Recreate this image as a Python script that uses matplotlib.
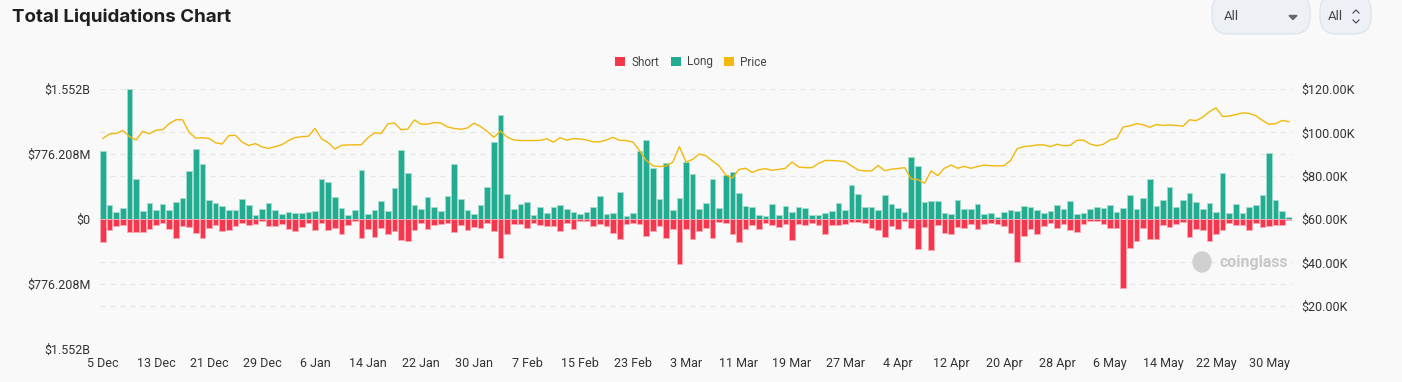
import numpy as np
import pandas as pd
import matplotlib
matplotlib.use('Agg')
import matplotlib.pyplot as plt
from matplotlib.patches import FancyBboxPatch, Patch, Ellipse
from matplotlib.lines import Line2D

# ---------------- data ----------------
start_date = '2024-12-05'

long_m = [810, 166, 87, 134, 1552, 478, 95, 190, 110, 174,
          103, 198, 249, 577, 841, 652, 221, 186, 150, 107,
          111, 233, 162, 47, 118, 186, 107, 63, 87, 71,
          71, 79, 95, 482, 438, 261, 126, 47, 103, 589,
          63, 107, 213, 95, 375, 826, 553, 162, 115, 265,
          146, 95, 273, 656, 233, 107, 55, 162, 383, 916,
          1240, 304, 118, 174, 198, 43, 142, 71, 146, 166,
          115, 87, 63, 79, 146, 276, 55, 75, 324, 36,
          71, 810, 940, 604, 233, 667, 107, 253, 683, 541,
          115, 190, 478, 134, 521, 565, 316, 150, 138, 43,
          36, 178, 51, 150, 83, 146, 126, 51, 51, 71,
          95, 190, 103, 403, 296, 138, 138, 111, 292, 174,
          126, 87, 743, 632, 205, 213, 213, 75, 59, 225,
          118, 122, 178, 63, 67, 28, 83, 103, 99, 158,
          142, 103, 67, 95, 170, 118, 213, 55, 71, 122,
          142, 126, 162, 87, 130, 284, 122, 253, 474, 154,
          221, 383, 138, 221, 316, 201, 118, 190, 87, 545,
          67, 178, 71, 146, 166, 292, 790, 225, 95, 24]

short_m = [276, 130, 79, 67, 150, 150, 150, 118, 71, 47,
           122, 221, 87, 91, 162, 221, 111, 71, 138, 130,
           83, 43, 75, 55, 24, 87, 79, 59, 122, 142,
           91, 43, 126, 51, 130, 103, 178, 71, 24, 221,
           122, 217, 103, 178, 138, 249, 265, 130, 51, 115,
           75, 63, 43, 154, 71, 134, 91, 107, 43, 138,
           462, 178, 59, 59, 103, 51, 71, 83, 79, 142,
           51, 122, 24, 24, 83, 59, 79, 166, 237, 63,
           43, 59, 198, 146, 87, 221, 122, 533, 115, 241,
           138, 111, 229, 40, 51, 182, 273, 115, 71, 115,
           47, 67, 99, 59, 249, 63, 71, 43, 67, 174,
           71, 71, 55, 36, 36, 51, 107, 130, 217, 79,
           122, 28, 103, 356, 95, 367, 71, 166, 174, 95,
           103, 63, 115, 55, 43, 63, 79, 166, 510, 201,
           122, 182, 79, 43, 103, 55, 126, 150, 63, 20,
           24, 59, 111, 111, 826, 344, 257, 107, 233, 233,
           67, 95, 59, 40, 209, 122, 126, 257, 182, 130,
           47, 67, 67, 134, 47, 99, 83, 67, 67, 8]

price_k = [97.2, 99.3, 99.5, 100.9, 98.0, 96.5, 100.5, 99.3, 101.0, 101.2,
           104.0, 105.8, 105.8, 100.0, 97.3, 97.5, 97.2, 95.2, 94.6, 98.5,
           98.6, 95.5, 93.9, 94.8, 93.3, 92.6, 93.4, 94.3, 96.2, 97.6,
           98.0, 98.2, 101.8, 97.0, 95.2, 92.3, 94.0, 94.2, 94.2, 94.3,
           97.5, 99.8, 99.5, 103.9, 104.3, 101.2, 101.5, 105.7, 103.8, 103.8,
           104.5, 104.3, 102.5, 101.8, 101.4, 102.0, 104.2, 102.7, 100.4, 97.7,
           100.6, 97.8, 96.5, 96.2, 96.2, 96.2, 96.3, 97.0, 95.5, 97.5,
           96.4, 97.1, 96.9, 96.5, 95.6, 95.6, 96.5, 97.7, 96.3, 96.2,
           95.5, 91.5, 87.0, 84.6, 84.2, 84.5, 86.2, 93.4, 86.3, 87.5,
           90.0, 89.2, 86.8, 84.5, 80.3, 78.9, 82.9, 83.4, 81.5, 82.8,
           83.2, 82.5, 82.9, 83.4, 86.3, 84.0, 83.7, 83.7, 85.6, 87.0,
           87.0, 86.8, 86.5, 84.5, 82.6, 82.2, 82.2, 84.7, 82.3, 83.0,
           83.3, 83.7, 78.5, 78.2, 76.5, 82.2, 80.0, 83.4, 84.9, 83.4,
           84.3, 83.4, 84.2, 84.9, 84.6, 84.5, 84.6, 87.0, 92.5, 93.4,
           93.7, 94.2, 94.2, 93.4, 94.5, 93.8, 94.0, 96.3, 96.4, 94.6,
           93.8, 94.5, 96.5, 97.2, 102.5, 103.0, 104.0, 103.5, 102.3, 103.6,
           103.2, 103.4, 103.2, 102.8, 105.8, 105.4, 107.0, 109.5, 111.3, 107.3,
           107.5, 108.2, 109.0, 108.7, 107.7, 105.5, 103.7, 104.0, 105.5, 104.9]

left_ticks_m = [-1552, -776.208, 0, 776.208, 1552]
left_tick_labels = ['$1.552B', '$776.208M', '$0', '$776.208M', '$1.552B']
right_ticks_k = [20, 40, 60, 80, 100, 120]
right_tick_labels = ['$20.00K', '$40.00K', '$60.00K', '$80.00K', '$100.00K', '$120.00K']
series_names = ['Short', 'Long', 'Price']
title_text = 'Total Liquidations Chart'
tick_every_days = 8

# ---------------- style ----------------
BG = '#f9f9f9'
GREEN = '#22ad92'
GREEN_EDGE = '#a3dccf'
RED = '#f5374d'
RED_EDGE = '#f9a9b4'
YELLOW = '#f0b90b'
GRID = '#e6e6e6'
TXT = '#333333'
FONT = ['Roboto', 'DejaVu Sans']

plt.rcParams['font.family'] = FONT

W_PX, H_PX = 1402, 382
fig = plt.figure(figsize=(W_PX / 100, H_PX / 100), dpi=100, facecolor=BG)

left_px, right_px, top_px, bottom_px = 100, 1292, 89, 349
ax = fig.add_axes([left_px / W_PX, 1 - bottom_px / H_PX,
                   (right_px - left_px) / W_PX, (bottom_px - top_px) / H_PX])
ax.set_facecolor('none')

dates = pd.date_range(start_date, periods=len(long_m), freq='D')
x = np.arange(len(dates))

ymax = max(long_m)
ax.set_ylim(-ymax, ymax)
ax.set_xlim(-0.45, len(x) - 0.53)

# grid lines (left + right ticks mapped to left scale)
pmin, pmax = 0, 120
grid_vals = list(left_ticks_m) + [(-ymax + (p - pmin) / (pmax - pmin) * 2 * ymax) for p in right_ticks_k]
for gv in sorted(set(round(v, 3) for v in grid_vals)):
    ax.axhline(gv, color=GRID, lw=0.9, ls=(0, (4, 4)), zorder=0)

ax.bar(x, long_m, width=0.86, color=GREEN, edgecolor=GREEN_EDGE, linewidth=0.7, zorder=2)
ax.bar(x, [-v for v in short_m], width=0.86, color=RED, edgecolor=RED_EDGE, linewidth=0.7, zorder=2)

ax.set_yticks(left_ticks_m)
ax.set_yticklabels(left_tick_labels)
tick_idx = list(range(0, len(x), tick_every_days))
ax.set_xticks(tick_idx)
ax.set_xticklabels([f"{dates[i].day} {dates[i].strftime('%b')}" for i in tick_idx])
ax.tick_params(axis='both', length=0, labelsize=9, colors=TXT)
ax.tick_params(axis='y', pad=7)
ax.tick_params(axis='x', pad=6)
for s in ax.spines.values():
    s.set_visible(False)

ax2 = ax.twinx()
ax2.plot(x, price_k, color=YELLOW, lw=1.0, zorder=3)
ax2.set_ylim(pmin, pmax)
ax2.set_yticks(right_ticks_k)
ax2.set_yticklabels(right_tick_labels)
ax2.tick_params(axis='y', length=0, labelsize=9, colors=TXT, pad=7)
for s in ax2.spines.values():
    s.set_visible(False)

# legend
handles = [Patch(facecolor=RED, edgecolor='none'),
           Patch(facecolor=GREEN, edgecolor='none'),
           Patch(facecolor=YELLOW, edgecolor='none')]
leg = fig.legend(handles, series_names, loc='center', bbox_to_anchor=(691 / W_PX, 1 - 62 / H_PX),
                 ncol=3, frameon=False, fontsize=8.5, handlelength=0.85, handleheight=0.85,
                 handletextpad=0.5, columnspacing=1.0, labelcolor='#444444')

# title
fig.text(12 / W_PX, 1 - 17 / H_PX, title_text, fontsize=13.5, fontweight='bold',
         family=['Inter', 'DejaVu Sans'], color='#1f1f1f', va='center', ha='left')

# dropdown widgets
def fx(px):
    return px / W_PX

def fy(py):
    return 1 - py / H_PX

for (x0, x1) in [(1212, 1310), (1320, 1371)]:
    box = FancyBboxPatch((fx(x0), fy(34)), fx(x1) - fx(x0), fy(-6) - fy(34),
                         boxstyle='round,pad=0,rounding_size=0.012', transform=fig.transFigure,
                         facecolor='#edf1f5', edgecolor='#dbe2ea', lw=0.8, mutation_aspect=W_PX / H_PX)
    fig.patches.append(box)
fig.text(fx(1224), fy(17), 'All', fontsize=9.5, color='#444444', va='center', ha='left')
fig.text(fx(1328), fy(17), 'All', fontsize=9.5, color='#444444', va='center', ha='left')
# triangle
fig.patches.append(plt.Polygon([[fx(1289), fy(15.5)], [fx(1297), fy(15.5)], [fx(1293), fy(19.5)]],
                               closed=True, transform=fig.transFigure, color='#666666'))
# up/down chevrons
fig.lines.append(Line2D([fx(1353), fx(1356), fx(1359)], [fy(13), fy(10), fy(13)],
                        transform=fig.transFigure, color='#555555', lw=0.9))
fig.lines.append(Line2D([fx(1353), fx(1356), fx(1359)], [fy(20), fy(23), fy(20)],
                        transform=fig.transFigure, color='#555555', lw=0.9))

# watermark
fig.patches.append(Ellipse((fx(1202), fy(262)), fx(18) - fx(0), fy(0) - fy(20),
                           transform=fig.transFigure, color='#d0d0d0', zorder=1))
fig.text(fx(1219), fy(263), 'coinglass', fontsize=11.5, fontweight='bold', color='#c8c8c8',
         va='center', ha='left')

fig.savefig('out.png', dpi=100, facecolor=BG)
